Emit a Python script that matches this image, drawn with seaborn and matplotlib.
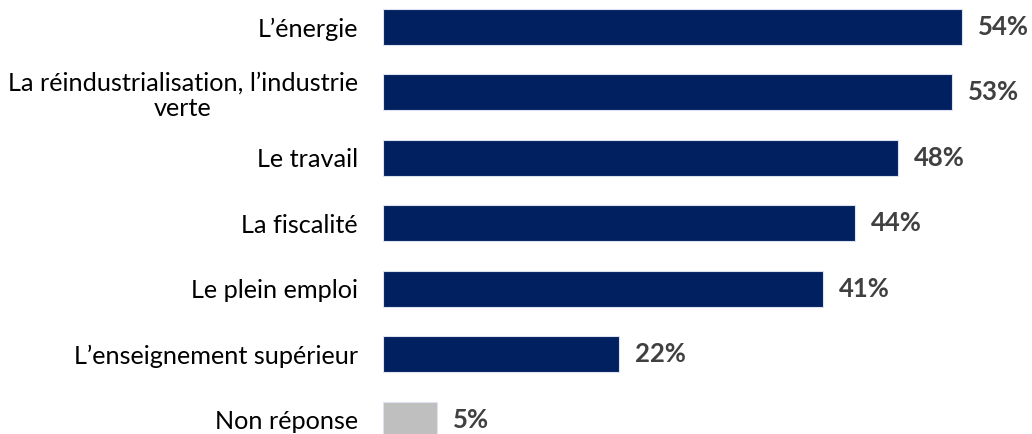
import matplotlib
matplotlib.use("Agg")
import matplotlib.pyplot as plt
import seaborn as sns
import pandas as pd

# Données du graphique
categories = ["L\u2019énergie",
              "La réindustrialisation, l\u2019industrie\nverte",
              "Le travail",
              "La fiscalité",
              "Le plein emploi",
              "L\u2019enseignement supérieur",
              "Non réponse"]
valeurs = [54, 53, 48, 44, 41, 22, 5]
couleurs = ["#002060"] * 6 + ["#BFBFBF"]

sns.set_style("white")
plt.rcParams['font.family'] = ['Lato', 'DejaVu Sans']

df = pd.DataFrame({"cat": categories, "val": valeurs})

fig = plt.figure(figsize=(10.32, 4.34), dpi=100)
ax = fig.add_axes([0.371, 0, 0.629, 1])
sns.barplot(data=df, x="val", y="cat", hue="cat", palette=couleurs, legend=False,
            orient="h", width=0.55, saturation=1, edgecolor="#DDE3EE",
            linewidth=0.8, ax=ax)

# Étiquettes de valeurs
for i, v in enumerate(valeurs):
    ax.text(v + 1.5, i, f"{v}%", va="center", ha="left", fontsize=18.5,
            fontweight="bold", color="#404040")

ax.set_xlim(0, 60.5)
ax.set_ylim(6.214, -0.412)
ax.set_xlabel("")
ax.set_ylabel("")
ax.set_xticks([])
ax.tick_params(axis="y", length=0, pad=18, labelsize=18.2, labelcolor="black")
for lab in ax.get_yticklabels():
    lab.set_multialignment("center")
    lab.set_linespacing(1.15)
sns.despine(ax=ax, left=True, bottom=True, top=True, right=True)

plt.savefig("out.png", dpi=100)
plt.close()
